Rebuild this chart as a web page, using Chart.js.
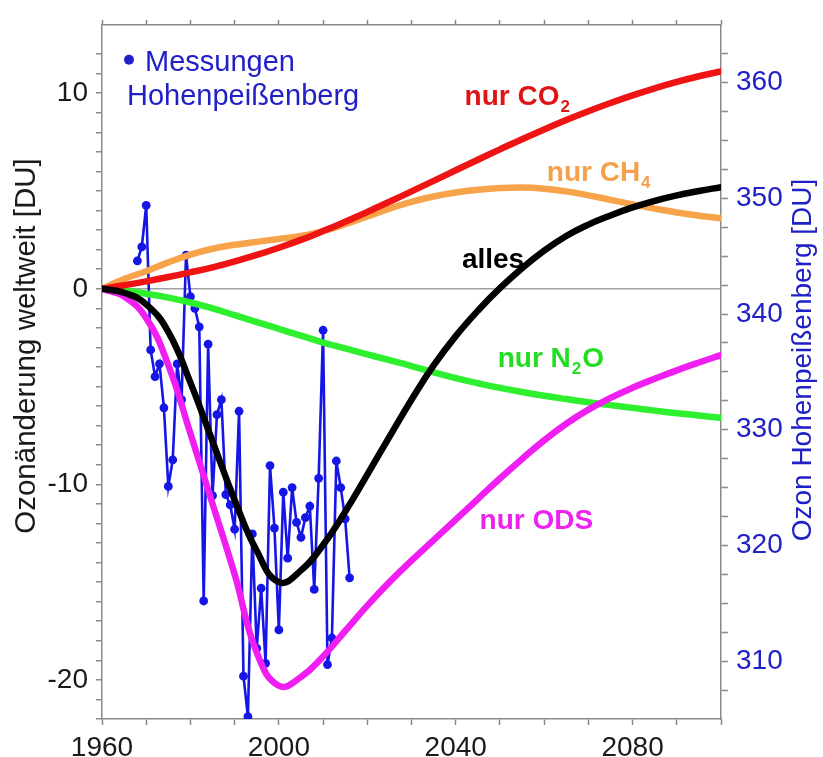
<!DOCTYPE html>
<html><head><meta charset="utf-8">
<script src="https://cdn.jsdelivr.net/npm/chart.js@4.4.1/dist/chart.umd.min.js"></script>
<style>html,body{margin:0;padding:0;background:#fff}#wrap{width:823px;height:757px;position:relative}</style>
</head><body><div id="wrap"><canvas id="c"></canvas></div>
<script>
// ---- data ----
const modelYears = [1960,1965,1970,1975,1980,1985,1990,1995,2000,2005,2010,2015,2020,2025,2030,2035,2040,2045,2050,2055,2060,2065,2070,2075,2080,2085,2090,2095,2100];
const nurCO2 = [0,0.18,0.38,0.6,0.84,1.1,1.4,1.73,2.1,2.5,2.95,3.43,3.93,4.45,4.98,5.52,6.06,6.6,7.13,7.65,8.15,8.63,9.08,9.5,9.89,10.25,10.58,10.87,11.12];
const nurCH4 = [0,0.5,0.9,1.35,1.75,2.05,2.25,2.4,2.55,2.7,2.95,3.3,3.7,4.1,4.45,4.72,4.92,5.06,5.15,5.18,5.12,4.98,4.78,4.55,4.32,4.1,3.9,3.74,3.6];
const nurN2O = [0,-0.1,-0.25,-0.45,-0.7,-1.0,-1.35,-1.7,-2.05,-2.4,-2.75,-3.05,-3.35,-3.65,-3.95,-4.27,-4.57,-4.83,-5.07,-5.28,-5.47,-5.64,-5.8,-5.95,-6.09,-6.23,-6.36,-6.48,-6.6];
const alles = [0,-0.2,-0.8,-2.2,-4.8,-7.8,-10.8,-13.4,-15.0,-14.4,-13.1,-11.4,-9.5,-7.57,-5.67,-3.92,-2.42,-1.12,0.03,1.05,1.95,2.7,3.28,3.75,4.16,4.5,4.78,5.0,5.2];
const nurODS = [0,-0.4,-1.5,-3.9,-7.4,-11.0,-14.6,-18.6,-20.3,-19.85,-18.8,-17.5,-16.2,-15.0,-13.9,-12.85,-11.8,-10.75,-9.7,-8.7,-7.75,-6.9,-6.18,-5.58,-5.06,-4.6,-4.17,-3.77,-3.39];

const messJahre = [1968,1969,1970,1971,1972,1973,1974,1975,1976,1977,1978,1979,1980,1981,1982,1983,1984,1985,1986,1987,1988,1989,1990,1991,1992,1993,1994,1995,1996,1997,1998,1999,2000,2001,2002,2003,2004,2005,2006,2007,2008,2009,2010,2011,2012,2013,2014,2015,2016];
const messWerte = [344.6,345.8,349.4,336.9,334.6,335.7,331.9,325.1,327.4,335.7,332.6,345.1,341.5,340.5,338.9,315.2,337.4,324.3,331.3,332.6,324.4,323.5,321.4,331.6,308.7,305.2,321.0,311.1,316.3,309.8,326.9,321.5,312.7,324.6,318.9,325.0,322.0,320.7,322.4,323.4,316.2,325.8,338.6,309.7,312.0,327.3,325.0,322.3,317.2];

const xTickLabels = ['1960','2000','2040','2080'];
const yTickLabels = ['-20','-10','0','10'];
const y2TickLabels = ['310','320','330','340','350','360'];

const leftTitle = 'Ozonänderung weltweit [DU]';
const rightTitle = 'Ozon Hohenpeißenberg [DU]';
const legendLines = ['Messungen', 'Hohenpeißenberg'];

// curve labels: text, subscript, trailing text, anchor (year, DU)
const curveLabels = [
  {t:'nur CO', s:'2', a:'', color:'#e01414', x:2042.0, y:9.39},
  {t:'nur CH', s:'4', a:'', color:'#f4a04c', x:2060.6, y:5.5},
  {t:'alles', s:'', a:'', color:'#000000', x:2041.4, y:1.06},
  {t:'nur N', s:'2', a:'O', color:'#22dd22', x:2049.5, y:-3.99},
  {t:'nur ODS', s:'', a:'', color:'#ee22ee', x:2045.4, y:-12.27}
];

const FONT = '"Liberation Sans", Arial, sans-serif';
const AXIS = '#8a8a8a';
const BLUE = '#1515e6';
const BLUE_TXT = '#2020c8';

const pts = (xs, ys) => xs.map((v, i) => ({x: v, y: ys[i]}));

const annotate = {
  id: 'annotate',
  afterDraw(chart) {
    const {ctx, scales: {x, y}, chartArea: ca} = chart;
    ctx.save();
    ctx.textBaseline = 'alphabetic';
    ctx.textAlign = 'left';
    curveLabels.forEach(L => {
      const px = x.getPixelForValue(L.x), py = y.getPixelForValue(L.y);
      ctx.fillStyle = L.color;
      ctx.font = 'bold 28px ' + FONT;
      ctx.fillText(L.t, px, py);
      let w = ctx.measureText(L.t).width;
      if (L.s) {
        ctx.font = 'bold 17px ' + FONT;
        ctx.fillText(L.s, px + w + 1, py + 7);
        w += ctx.measureText(L.s).width + 2;
      }
      if (L.a) {
        ctx.font = 'bold 28px ' + FONT;
        ctx.fillText(L.a, px + w, py);
      }
    });
    // legend
    ctx.fillStyle = BLUE_TXT;
    ctx.beginPath();
    ctx.arc(ca.left + 27, ca.top + 35, 5, 0, Math.PI * 2);
    ctx.fill();
    ctx.font = '29px ' + FONT;
    ctx.fillText(legendLines[0], ca.left + 43, ca.top + 46);
    ctx.fillText(legendLines[1], ca.left + 25, ca.top + 80);
    // axis titles
    ctx.textAlign = 'center';
    ctx.textBaseline = 'middle';
    ctx.fillStyle = '#1a1a1a';
    ctx.font = '29.5px ' + FONT;
    ctx.translate(27, 346);
    ctx.rotate(-Math.PI / 2);
    ctx.fillText(leftTitle, 0, 0);
    ctx.setTransform(1, 0, 0, 1, 0, 0);
    ctx.fillStyle = BLUE_TXT;
    ctx.font = '28px ' + FONT;
    ctx.translate(803, 360);
    ctx.rotate(-Math.PI / 2);
    ctx.fillText(rightTitle, 0, 0);
    ctx.restore();
  }
};

const lineDs = (label, data, color, order) => ({
  label, data: pts(modelYears, data), borderColor: color, backgroundColor: color,
  borderWidth: 6.5, pointRadius: 0, tension: 0.45, yAxisID: 'y', order,
  borderCapStyle: 'round', borderJoinStyle: 'round'
});

new Chart(document.getElementById('c'), {
  type: 'line',
  data: {
    datasets: [
      lineDs('alles', alles, '#000000', 1),
      lineDs('nur ODS', nurODS, '#f01ef0', 2),
      lineDs('nur CO2', nurCO2, '#ee1414', 3),
      lineDs('nur CH4', nurCH4, '#f7a34a', 4),
      lineDs('nur N2O', nurN2O, '#2ef02e', 5),
      {label: 'Messungen Hohenpeißenberg', data: pts(messJahre, messWerte), yAxisID: 'y2',
       borderColor: BLUE, backgroundColor: BLUE, borderWidth: 2.6, pointRadius: 4.4,
       pointBorderWidth: 0, tension: 0, order: 10}
    ]
  },
  options: {
    responsive: true, maintainAspectRatio: false, animation: false, devicePixelRatio: 1,
    layout: {padding: 0},
    plugins: {legend: {display: false}, tooltip: {enabled: false}},
    scales: {
      x: {
        type: 'linear', position: 'bottom', min: 1960, max: 2100,
        afterFit: s => { s.height = 38; },
        ticks: {stepSize: 10, autoSkip: false, maxRotation: 0, padding: 6, color: '#1a1a1a',
          font: {family: FONT, size: 28},
          callback: v => { const s = String(v); return xTickLabels.includes(s) ? s : ''; }},
        grid: {drawOnChartArea: false, drawTicks: true, tickLength: 6, tickColor: AXIS, tickWidth: 1.5},
        border: {display: true, color: AXIS, width: 1.5}
      },
      xTop: {
        type: 'linear', position: 'top', min: 1960, max: 2100,
        afterFit: s => { s.height = 17; },
        ticks: {stepSize: 10, display: false},
        grid: {drawOnChartArea: false, drawTicks: true, tickLength: 5, tickColor: AXIS, tickWidth: 1.5},
        border: {display: true, color: AXIS, width: 1.5}
      },
      y: {
        type: 'linear', position: 'left', min: -22, max: 13.5,
        afterFit: s => { s.width = 102; },
        afterBuildTicks: s => { s.ticks = s.ticks.filter(t => Number.isInteger(t.value)); },
        ticks: {stepSize: 1, autoSkip: false, padding: 8, color: '#1a1a1a',
          font: {family: FONT, size: 28},
          callback: v => { const s = String(v); return yTickLabels.includes(s) ? s : ''; }},
        grid: {drawOnChartArea: true, drawTicks: true, tickLength: 6, tickColor: AXIS, tickWidth: 1.5,
          color: c => (c.tick && c.tick.value === 0) ? '#a0a0a0' : 'rgba(0,0,0,0)', lineWidth: 1.5},
        border: {display: true, color: AXIS, width: 1.5}
      },
      y2: {
        type: 'linear', position: 'right', min: 305, max: 365,
        afterFit: s => { s.width = 102; },
        afterBuildTicks: s => { s.ticks = s.ticks.filter(t => t.value > 305 && t.value < 365); },
        ticks: {stepSize: 2.5, autoSkip: false, padding: 8, color: BLUE_TXT,
          font: {family: FONT, size: 28},
          callback: v => { const s = String(v); return y2TickLabels.includes(s) ? s : ''; }},
        grid: {drawOnChartArea: false, drawTicks: true, tickLength: 7, tickColor: AXIS, tickWidth: 1.5},
        border: {display: true, color: AXIS, width: 1.5}
      }
    }
  },
  plugins: [annotate]
});
</script>
</body></html>
